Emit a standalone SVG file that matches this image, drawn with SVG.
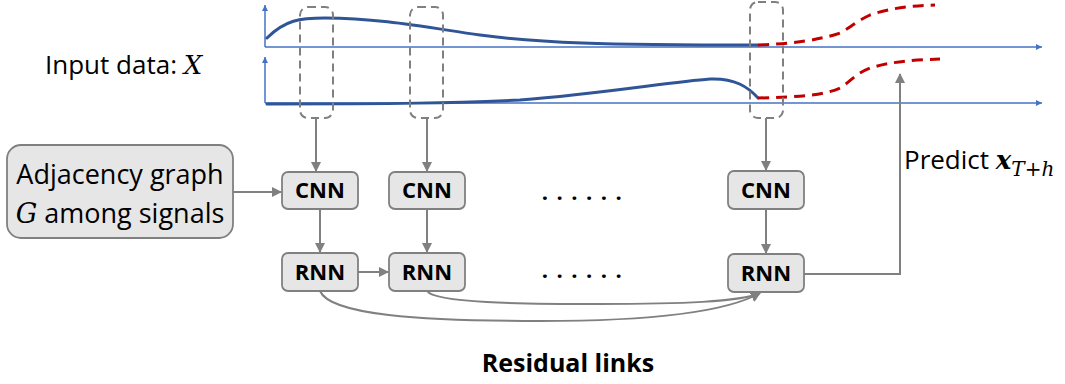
<svg xmlns="http://www.w3.org/2000/svg" width="1065" height="384" viewBox="0 0 1065 384">
<style>
text{font-family:"Open Sans","Liberation Sans",sans-serif;fill:#000}
.lbl{font-size:26px}
.nt{font-size:22px;font-weight:bold;text-anchor:middle}
.node{fill:#E7E6E6;stroke:#808080;stroke-width:1.8}
.axis{stroke:#4472C4;stroke-width:1.5;fill:none}
.sig{stroke:#2F5597;stroke-width:3;fill:none;stroke-linecap:round}
.pred{stroke:#C00000;stroke-width:3;fill:none;stroke-dasharray:11 7}
.win{stroke:#808080;stroke-width:2;fill:none;stroke-dasharray:8 5}
.con{stroke:#808080;stroke-width:2;fill:none}
.math{font-family:"DejaVu Serif","Liberation Serif",serif;font-style:italic}
.dots{font-size:22px;font-weight:bold;text-anchor:middle;letter-spacing:8.5px}
</style>
<defs>
<marker id="ah" markerWidth="10" markerHeight="10" refX="9" refY="5" orient="auto" markerUnits="userSpaceOnUse">
<path d="M0,0 L10,5 L0,10 z" fill="#808080"/>
</marker>
<marker id="ab" markerWidth="6" markerHeight="6" refX="6" refY="3" orient="auto" markerUnits="userSpaceOnUse">
<path d="M0,0 L6,3 L0,6 z" fill="#4472C4"/>
</marker>
</defs>

<g id="plots">
<path class="axis" d="M265,47 L265,5" marker-end="url(#ab)"/>
<path class="axis" d="M265,47 L1042,47" marker-end="url(#ab)"/>
<path class="axis" d="M265,103 L265,57" marker-end="url(#ab)"/>
<path class="axis" d="M265,103 L1042,103" marker-end="url(#ab)"/>
<path class="sig" d="M267,38 C285,20 300,18 325,18 C380,18 430,28 480,35 C540,43 600,45 758,45"/>
<path class="pred" d="M758,45 C790,44 820,40 840,33 C850,28 855,22 870,15 C890,8 910,6 935,5"/>
<path class="sig" d="M267,104 C400,104 450,103 520,100 C600,94 670,82 710,79 C735,78 748,87 758,98"/>
<path class="pred" d="M758,98 C800,97 825,95 840,88 C850,82 855,74 870,68 C890,62 910,60 940,59"/>
<rect class="win" x="300" y="7" width="33" height="111" rx="8"/>
<rect class="win" x="410" y="7" width="33" height="111" rx="8"/>
<rect class="win" x="750" y="2" width="33" height="116" rx="8"/>
</g>

<g id="input-label"><text class="lbl" x="45" y="74">Input data: <tspan class="math">X</tspan></text></g>

<g id="adjacency">
<rect class="node" x="7" y="145" width="226" height="93" rx="14"/>
<text x="120" y="184" font-size="27" text-anchor="middle">Adjacency graph</text>
<text x="120" y="223" font-size="27" text-anchor="middle"><tspan class="math">G</tspan> among signals</text>
</g>

<g id="cnn1"><rect class="node" x="282" y="172" width="76" height="37" rx="6"/><text class="nt" x="320" y="198">CNN</text></g>
<g id="cnn2"><rect class="node" x="389" y="172" width="76" height="37" rx="6"/><text class="nt" x="427" y="198">CNN</text></g>
<g id="cnn3"><rect class="node" x="728" y="171" width="76" height="38" rx="6"/><text class="nt" x="766" y="198">CNN</text></g>
<g id="rnn1"><rect class="node" x="282" y="253" width="76" height="38" rx="6"/><text class="nt" x="320" y="280">RNN</text></g>
<g id="rnn2"><rect class="node" x="389" y="253" width="76" height="38" rx="6"/><text class="nt" x="427" y="280">RNN</text></g>
<g id="rnn3"><rect class="node" x="728" y="254" width="76" height="38" rx="6"/><text class="nt" x="766" y="281">RNN</text></g>

<g id="dots">
<text class="dots" x="586" y="200">......</text>
<text class="dots" x="586" y="278">......</text>
</g>

<g id="connectors">
<path class="con" d="M316,118 L316,171" marker-end="url(#ah)"/>
<path class="con" d="M427,118 L427,171" marker-end="url(#ah)"/>
<path class="con" d="M766,118 L766,170" marker-end="url(#ah)"/>
<path class="con" d="M233,192 L281,192" marker-end="url(#ah)"/>
<path class="con" d="M320,209 L320,252" marker-end="url(#ah)"/>
<path class="con" d="M427,209 L427,252" marker-end="url(#ah)"/>
<path class="con" d="M766,209 L766,253" marker-end="url(#ah)"/>
<path class="con" d="M358,272 L388,272" marker-end="url(#ah)"/>
<path class="con" d="M804,274 L900,274 L900,74" marker-end="url(#ah)"/>
<path class="con" d="M320,291 C330,315 420,321 540,321 C660,321 730,310 760,293" marker-end="url(#ah)"/>
<path class="con" d="M427,291 C435,303 520,304 600,304 C680,304 740,302 760,293" marker-end="url(#ah)"/>
</g>

<g id="predict-label"><text class="lbl" x="904" y="169">Predict <tspan class="math" font-weight="bold">x</tspan><tspan class="math" font-size="20" dy="7">T+h</tspan></text></g>

<g id="residual-label"><text x="568" y="372" font-size="25" text-anchor="middle" font-weight="bold">Residual links</text></g>
</svg>
